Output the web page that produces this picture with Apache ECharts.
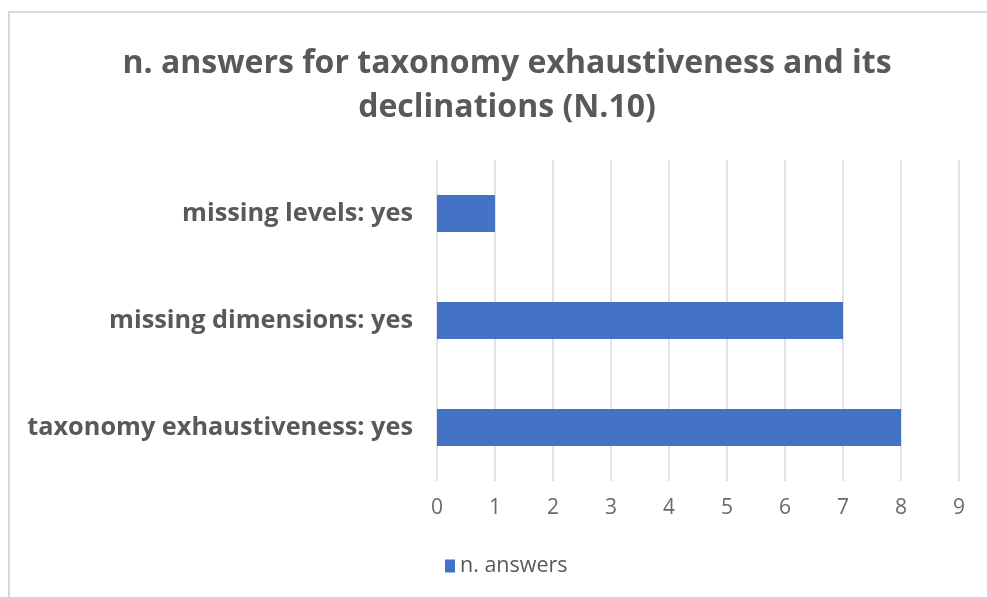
<!DOCTYPE html>
<html>
<head>
<meta charset="utf-8">
<script src="https://cdn.jsdelivr.net/npm/echarts@6/dist/echarts.min.js"></script>
<style>
  html, body { margin: 0; padding: 0; background: #ffffff; }
  #chart { width: 987px; height: 597px; }
</style>
</head>
<body>
<div id="chart"></div>
<script>
// Categories listed bottom-to-top (ECharts category y-axis starts at the bottom)
const categories = ['taxonomy exhaustiveness: yes', 'missing dimensions: yes', 'missing levels: yes'];
const answers = [8, 7, 1];
const seriesName = 'n. answers';
const titleText = 'n. answers for taxonomy exhaustiveness and its\ndeclinations (N.10)';

const textGray = '#595959';
const barBlue = '#4472C4';

const chart = echarts.init(document.getElementById('chart'), null, { renderer: 'canvas' });

chart.setOption({
  backgroundColor: '#ffffff',
  animation: false,
  graphic: [{
    type: 'rect',
    shape: { x: 9, y: 12, width: 1000, height: 620 },
    style: { fill: 'none', stroke: '#d9d9d9', lineWidth: 2 },
    silent: true,
    z: -1
  }],
  title: {
    text: titleText,
    left: 502,
    textAlign: 'center',
    top: 37,
    textStyle: {
      fontFamily: 'Open Sans',
      fontWeight: 'bold',
      fontSize: 32,
      color: textGray,
      lineHeight: 44
    }
  },
  grid: {
    left: 437,
    right: 28,
    top: 160,
    bottom: 116,
    containLabel: false
  },
  xAxis: {
    type: 'value',
    min: 0,
    max: 9,
    interval: 1,
    axisLine: { show: false },
    axisTick: { show: false },
    axisLabel: {
      color: '#6a6a6a',
      fontFamily: 'Open Sans',
      fontSize: 21,
      margin: 17
    },
    splitLine: { show: true, lineStyle: { color: '#d9d9d9', width: 1.5 } }
  },
  yAxis: {
    type: 'category',
    data: categories,
    axisLine: { show: false },
    axisTick: { show: false },
    axisLabel: {
      color: textGray,
      fontFamily: 'Open Sans',
      fontWeight: 'bold',
      fontSize: 25.3,
      margin: 24
    }
  },
  legend: {
    data: [seriesName],
    left: 440,
    top: 550,
    icon: 'rect',
    itemWidth: 10,
    itemHeight: 13,
    itemGap: 7,
    textStyle: { color: textGray, fontFamily: 'Open Sans', fontSize: 21.5 }
  },
  series: [{
    name: seriesName,
    type: 'bar',
    data: answers,
    barWidth: 37,
    itemStyle: { color: barBlue }
  }]
});
</script>
</body>
</html>
